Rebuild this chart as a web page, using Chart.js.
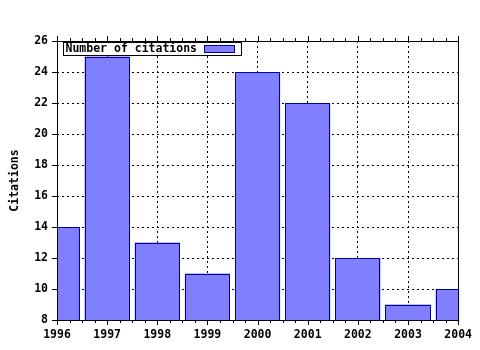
<!DOCTYPE html>
<html>
<head>
<meta charset="UTF-8">
<title>Number of citations</title>
<script src="https://cdn.jsdelivr.net/npm/chart.js"></script>
<style>
  body { margin: 0; background: #fff; }
  canvas { display: block; }
</style>
</head>
<body>
<canvas id="chart" width="480" height="350"></canvas>
<script>
  // data
  const years = [1996, 1997, 1998, 1999, 2000, 2001, 2002, 2003, 2004];
  const citations = [14, 25, 13, 11, 24, 22, 12, 9, 10];
  const seriesLabel = 'Number of citations';
  const yTitle = 'Citations';
  const yMin = 8, yMax = 26, yStep = 2;

  const FONT = { family: '"DejaVu Sans Mono", monospace', size: 11.5, weight: 'bold' };
  const FILL = 'rgb(128,128,255)';
  const EDGE = 'rgb(0,0,160)';

  // crisp 1px outline around each bar, from the element geometry
  const outlinePlugin = {
    id: 'outline',
    afterDatasetsDraw(chart) {
      const { ctx, chartArea: a } = chart;
      ctx.save();
      ctx.beginPath();
      ctx.rect(a.left, a.top - 1, a.right - a.left + 1, a.bottom - a.top + 2);
      ctx.clip();
      ctx.strokeStyle = EDGE;
      ctx.lineWidth = 1;
      chart.getDatasetMeta(0).data.forEach(el => {
        const { x, y, width, base } = el.getProps(['x', 'y', 'width', 'base'], true);
        const l = Math.round(x - width / 2), r = Math.round(x + width / 2);
        const t = Math.round(y), b = Math.round(base);
        ctx.fillStyle = FILL;
        ctx.fillRect(l, t, r - l, b - t);
        ctx.strokeRect(l + 0.5, t + 0.5, r - l - 1, b - t);
      });
      ctx.restore();
    }
  };

  // gnuplot style frame: solid border, outward ticks (minors on x), boxed key
  const framePlugin = {
    id: 'frame',
    afterDraw(chart) {
      const { ctx, chartArea: a, scales: { x, y } } = chart;
      ctx.save();
      ctx.strokeStyle = '#000';
      ctx.lineWidth = 1;
      ctx.strokeRect(Math.round(a.left) + 0.5, Math.round(a.top) + 0.5,
        Math.round(a.right - a.left), Math.round(a.bottom - a.top));

      ctx.beginPath();
      for (let v = x.min; v <= x.max + 1e-9; v += 0.25) {
        const px = Math.round(x.getPixelForValue(v)) + 0.5;
        const len = Math.abs(v - Math.round(v)) < 1e-9 ? 5 : 3;
        ctx.moveTo(px, Math.round(a.bottom)); ctx.lineTo(px, Math.round(a.bottom) + len);
        ctx.moveTo(px, Math.round(a.top)); ctx.lineTo(px, Math.round(a.top) - len);
      }
      for (let v = yMin; v <= yMax; v += yStep) {
        const py = Math.round(y.getPixelForValue(v)) + 0.5;
        ctx.moveTo(Math.round(a.left) - 5, py); ctx.lineTo(Math.round(a.left), py);
      }
      ctx.stroke();

      // key box
      const kx = Math.round(a.left) + 6.5, ky = Math.round(a.top) + 1.5;
      ctx.fillStyle = '#fff';
      ctx.fillRect(kx, ky, 178, 13);
      ctx.strokeRect(kx, ky, 178, 13);
      ctx.fillStyle = '#000';
      ctx.font = `${FONT.weight} ${FONT.size}px ${FONT.family}`;
      ctx.textBaseline = 'middle';
      ctx.fillText(seriesLabel, kx + 2, ky + 7);
      ctx.fillStyle = FILL;
      ctx.fillRect(kx + 141, ky + 3, 30, 7);
      ctx.strokeStyle = EDGE;
      ctx.strokeRect(kx + 141, ky + 3, 30, 7);
      ctx.restore();
    }
  };

  new Chart(document.getElementById('chart'), {
    type: 'bar',
    data: {
      datasets: [{
        label: seriesLabel,
        data: years.map((yr, i) => ({ x: yr, y: citations[i] })),
        backgroundColor: FILL,
        borderWidth: 0,
        base: yMin,
        barPercentage: 0.9,
        categoryPercentage: 1.0
      }]
    },
    options: {
      responsive: false,
      animation: false,
      layout: { padding: { top: 41, right: 21, left: 0, bottom: 0 } },
      plugins: { legend: { display: false }, tooltip: { enabled: false } },
      scales: {
        x: {
          type: 'linear',
          min: years[0],
          max: years[years.length - 1],
          offset: false,
          grid: { offset: false, color: '#000', lineWidth: 1, drawTicks: false },
          border: { display: false, dash: [2, 3] },
          ticks: { stepSize: 1, color: '#000', font: FONT, padding: 8, maxRotation: 0,
            callback: v => String(v) },
          afterFit: s => { s.height = 30; }
        },
        y: {
          min: yMin,
          max: yMax,
          grid: { color: '#000', lineWidth: 1, drawTicks: false },
          border: { display: false, dash: [2, 3] },
          ticks: { stepSize: yStep, color: '#000', font: FONT, padding: 9 },
          title: { display: true, text: yTitle, color: '#000', font: FONT, padding: { top: 8, bottom: 0 } },
          afterFit: s => { s.width = 57; }
        }
      }
    },
    plugins: [outlinePlugin, framePlugin]
  });
</script>
</body>
</html>
